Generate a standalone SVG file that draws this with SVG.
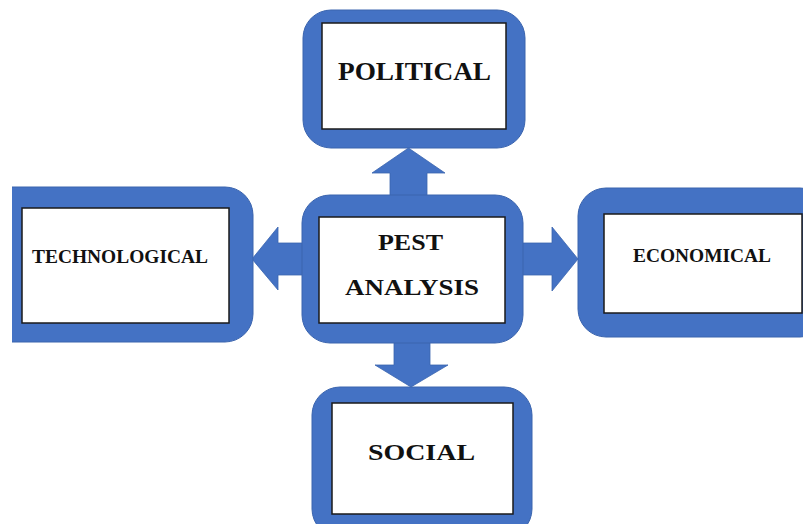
<svg xmlns="http://www.w3.org/2000/svg" width="803" height="524" viewBox="0 0 803 524">
  <style>
    .frame { fill: #4472C4; stroke: #3A64AE; stroke-width: 1; }
    .panel { fill: #ffffff; stroke: #1a1a1a; stroke-width: 1.5; }
    .arrow { fill: #4472C4; stroke: #3A64AE; stroke-width: 0.8; }
    .label { font-family: "Liberation Serif", "DejaVu Serif", serif; font-weight: bold; fill: #111111; text-anchor: start; }
  </style>
  <defs>
    <clipPath id="clipLeft">
      <rect x="12" y="0" width="791" height="524"/>
    </clipPath>
  </defs>
  <rect x="0" y="0" width="803" height="524" fill="#ffffff"/>

  <!-- connectors: block arrows from the centre box -->
  <g id="connectors">
    <polygon class="arrow" points="390,197 390,173 372,173 408.5,148 445,173 427,173 427,197"/>
    <polygon class="arrow" points="394,341 394,365 375,365 411,387 448,365 430,365 430,341"/>
    <polygon class="arrow" points="304,243 278,243 278,227 252,259 278,290 278,275 304,275"/>
    <polygon class="arrow" points="522,243 552,243 552,227 578,259 552,291 552,275 522,275"/>
  </g>

  <g id="political">
    <rect class="frame" x="303" y="10" width="222" height="138" rx="28"/>
    <rect class="panel" x="322" y="23" width="184" height="106"/>
    <text class="label" x="338" y="80" font-size="25" textLength="153" lengthAdjust="spacingAndGlyphs">POLITICAL</text>
  </g>

  <g id="pest">
    <rect class="frame" x="302" y="195" width="221" height="148" rx="28"/>
    <rect class="panel" x="319" y="217" width="186" height="106"/>
    <text class="label" x="378" y="250" font-size="24" textLength="65" lengthAdjust="spacingAndGlyphs">PEST</text>
    <text class="label" x="345" y="295" font-size="24" textLength="134" lengthAdjust="spacingAndGlyphs">ANALYSIS</text>
  </g>

  <g id="technological" clip-path="url(#clipLeft)">
    <rect class="frame" x="-20" y="187" width="273" height="155" rx="28"/>
    <rect class="panel" x="22" y="208" width="207" height="115"/>
    <text class="label" x="32" y="263" font-size="19" textLength="176" lengthAdjust="spacingAndGlyphs">TECHNOLOGICAL</text>
  </g>

  <g id="economical">
    <rect class="frame" x="578" y="188" width="250" height="149" rx="28"/>
    <rect class="panel" x="604" y="214" width="198" height="99"/>
    <text class="label" x="633" y="262" font-size="18" textLength="138" lengthAdjust="spacingAndGlyphs">ECONOMICAL</text>
  </g>

  <g id="social">
    <rect class="frame" x="312" y="387" width="220" height="150" rx="28"/>
    <rect class="panel" x="332" y="403" width="181" height="111"/>
    <text class="label" x="368" y="460" font-size="24" textLength="107" lengthAdjust="spacingAndGlyphs">SOCIAL</text>
  </g>
</svg>
